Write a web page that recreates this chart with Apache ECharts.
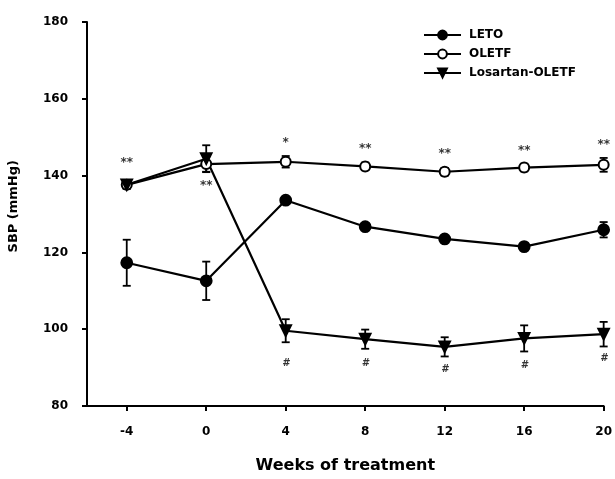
<!DOCTYPE html>
<html><head><meta charset="utf-8">
<script src="https://cdn.jsdelivr.net/npm/echarts@6/dist/echarts.min.js"></script>
<style>html,body{margin:0;padding:0;background:#fff}#c{width:615px;height:479px}</style>
</head><body><div id="c"></div>
<script>
const weeks = [-4, 0, 4, 8, 12, 16, 20];
const xTicks = [-4, 0, 4, 8, 12, 16, 20];
const yTicks = [80, 100, 120, 140, 160, 180];
const leto = [117.3, 112.6, 133.6, 126.7, 123.5, 121.5, 125.9];
const letoErr = [6, 5, 0.8, 0.8, 0.8, 1, 2];
const oletf = [137.6, 143.0, 143.6, 142.4, 141.0, 142.1, 142.8];
const oletfErr = [1, 2, 1.5, 1, 1, 1, 1.8];
const losartan = [137.6, 144.4, 99.6, 97.4, 95.4, 97.6, 98.7];
const losartanErr = [1, 3.5, 3, 2.5, 2.5, 3.4, 3.2];
const starLabels = [[-4, 143.3, '**'], [0, 137.4, '**'], [4, 148.4, '*'], [8, 147.0, '**'], [12, 145.7, '**'], [16, 146.4, '**'], [20, 148.1, '**']];
const hashLabels = [[4, 91.1, '#'], [8, 91.1, '#'], [12, 89.4, '#'], [16, 90.7, '#'], [20, 92.4, '#']];

const FONT = '"DejaVu Sans", "Liberation Sans", Arial, sans-serif';
const pts = (arr) => weeks.map((w, i) => [w, arr[i]]);
const errData = (arr, err) => weeks.map((w, i) => [w, arr[i] - err[i], arr[i] + err[i]]);

function errorBar(params, api) {
  const x = api.value(0);
  const lo = api.coord([x, api.value(1)]);
  const hi = api.coord([x, api.value(2)]);
  const hw = 4;
  const style = { stroke: '#000', lineWidth: 1.8 };
  return { type: 'group', children: [
    { type: 'line', shape: { x1: lo[0], y1: lo[1], x2: hi[0], y2: hi[1] }, style },
    { type: 'line', shape: { x1: lo[0] - hw, y1: lo[1], x2: lo[0] + hw, y2: lo[1] }, style },
    { type: 'line', shape: { x1: hi[0] - hw, y1: hi[1], x2: hi[0] + hw, y2: hi[1] }, style }
  ]};
}

const lineBase = {
  type: 'line', lineStyle: { color: '#000', width: 2.2 }, itemStyle: { color: '#000', borderColor: '#000', borderWidth: 1.8 },
  symbolSize: 11, z: 3, animation: false
};
const errBase = { type: 'custom', renderItem: errorBar, encode: { x: 0, y: [1, 2] }, z: 2, silent: true, animation: false };
const labelSeries = (data, size, style) => ({
  type: 'scatter', data, symbolSize: 0, silent: true, animation: false, z: 4,
  label: { show: true, position: 'inside', formatter: p => p.data[2], color: '#000', fontFamily: FONT, fontWeight: 'bold', fontStyle: style || 'normal', fontSize: size }
});

const chart = echarts.init(document.getElementById('c'), null, { renderer: 'canvas' });
chart.setOption({
  backgroundColor: '#fff',
  animation: false,
  grid: { left: 87, right: 10, top: 22, bottom: 71 },
  legend: {
    orient: 'vertical', left: 418, top: 24, itemGap: 7, itemWidth: 37, itemHeight: 11,
    textStyle: { fontFamily: FONT, fontWeight: 'bold', fontSize: 12, color: '#000', padding: [0, 0, 0, 3] },
    data: ['LETO', 'OLETF', 'Losartan-OLETF']
  },
  graphic: [{
    type: 'text', left: 7, top: 160,
    rotation: Math.PI / 2, originX: 0, originY: 0,
    style: { text: 'SBP (mmHg)', fontFamily: FONT, fontWeight: 'bold', fontSize: 13, fill: '#000' }
  }],
  xAxis: {
    type: 'value', min: -6, max: 20,
    name: 'Weeks of treatment', nameLocation: 'middle', nameGap: 52,
    nameTextStyle: { fontFamily: FONT, fontWeight: 'bold', fontSize: 16, color: '#000' },
    axisLine: { lineStyle: { color: '#000', width: 2 } },
    axisTick: { show: true, length: 5, lineStyle: { color: '#000', width: 2 }, customValues: xTicks },
    axisLabel: { customValues: xTicks, color: '#000', fontFamily: FONT, fontWeight: 'bold', fontSize: 12, margin: 20 },
    splitLine: { show: false }
  },
  yAxis: {
    type: 'value', min: 80, max: 180, interval: 20,
    axisLine: { show: true, onZero: false, lineStyle: { color: '#000', width: 2 } },
    axisTick: { show: true, length: 5, lineStyle: { color: '#000', width: 2 } },
    axisLabel: { color: '#000', fontFamily: FONT, fontWeight: 'bold', fontSize: 12, margin: 19,
      formatter: v => yTicks.includes(v) ? String(v) : '' },
    splitLine: { show: false }
  },
  series: [
    Object.assign({}, errBase, { name: 'LETO-err', data: errData(leto, letoErr) }),
    Object.assign({}, errBase, { name: 'OLETF-err', data: errData(oletf, oletfErr) }),
    Object.assign({}, errBase, { name: 'Los-err', data: errData(losartan, losartanErr) }),
    Object.assign({}, lineBase, { name: 'LETO', symbol: 'circle', data: pts(leto) }),
    Object.assign({}, lineBase, { name: 'OLETF', symbol: 'emptyCircle', symbolSize: 10, data: pts(oletf) }),
    Object.assign({}, lineBase, { name: 'Losartan-OLETF', symbol: 'triangle', symbolRotate: 180, symbolSize: 11, data: pts(losartan) }),
    labelSeries(starLabels, 12),
    labelSeries(hashLabels, 10, 'italic')
  ]
});
</script>
</body></html>
